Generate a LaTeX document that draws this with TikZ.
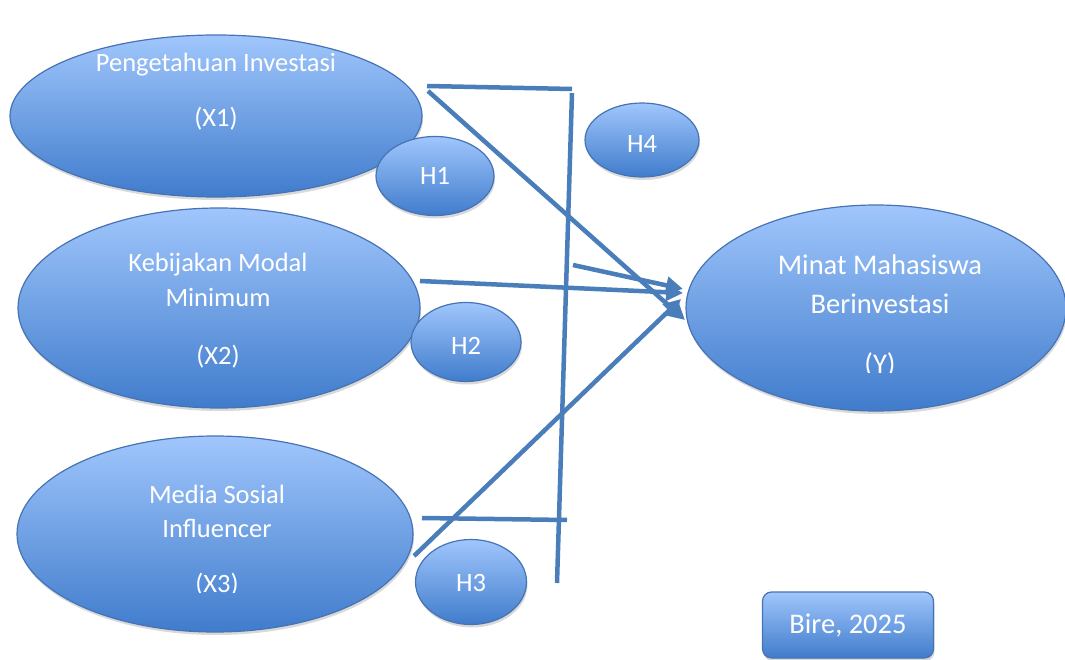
\documentclass[tikz,border=0pt]{standalone}
\usepackage{fontspec}
\setmainfont{Carlito}
\usetikzlibrary{arrows.meta,shapes.geometric,shadows}
\definecolor{linec}{RGB}{74,126,187}
\definecolor{edgec}{RGB}{70,115,180}
\definecolor{topc}{RGB}{160,198,252}
\definecolor{botc}{RGB}{64,124,204}
\tikzset{
  bub/.style={ellipse, draw=edgec, line width=1.2pt, top color=topc, bottom color=botc,
    inner sep=0pt, drop shadow={shadow xshift=1pt, shadow yshift=-3pt, opacity=0.25, fill=black!60}},
  boxy/.style={rectangle, rounded corners=9pt, draw=edgec, line width=1.2pt, top color=topc, bottom color=botc,
    inner sep=0pt, drop shadow={shadow xshift=1pt, shadow yshift=-3pt, opacity=0.25, fill=black!60}},
  txt/.style={text=white, anchor=base, inner sep=0pt, font=\fontsize{26.5}{30}\selectfont},
  bigtxt/.style={text=white, anchor=base, inner sep=0pt, font=\fontsize{28.5}{32}\selectfont},
  ln/.style={draw=linec, line width=4.5pt},
  arr/.style={ln, -{Triangle[length=17pt,width=17pt]}}
}
\begin{document}
\begin{tikzpicture}[x=1pt,y=-1pt]
\useasboundingbox (0,0) rectangle (1065,660);
\clip (0,0) rectangle (1065,660);
% main ellipses
\node[bub, minimum width=412pt, minimum height=162pt] (X1) at (216,116) {};
\node[bub, minimum width=402pt, minimum height=200pt] (X2) at (219,308) {};
\node[bub, minimum width=396pt, minimum height=196pt] (X3) at (215,534) {};
\node[bub, minimum width=380pt, minimum height=206pt] (Y) at (876,308) {};
% hypothesis ellipses
\node[bub, minimum width=118pt, minimum height=79pt] (H1) at (435,176) {};
\node[bub, minimum width=110pt, minimum height=79pt] (H2) at (466,342) {};
\node[bub, minimum width=111pt, minimum height=85pt] (H3) at (471,582) {};
\node[bub, minimum width=114pt, minimum height=74pt] (H4) at (642,140) {};
\node[boxy, minimum width=171pt, minimum height=66pt] (B) at (848,625) {};
% texts
\node[txt] (t1a) at (216,72) {Pengetahuan Investasi};
\node[txt] (t1b) at (216,127) {(X1)};
\node[txt] (t2a) at (218,272) {Kebijakan Modal};
\node[txt] (t2b) at (218,306) {Minimum};
\node[txt] (t2c) at (218,364) {(X2)};
\node[txt] (t3a) at (217,503) {Media Sosial};
\node[txt] (t3b) at (217,537) {Influencer};
\begin{scope}
  \clip (100,560) rectangle (330,592);
  \node[txt] (t3c) at (217,592) {(X3)};
\end{scope}
\node[bigtxt] (tya) at (880,275) {Minat Mahasiswa};
\node[bigtxt] (tyb) at (880,313) {Berinvestasi};
\begin{scope}
  \clip (800,340) rectangle (960,372);
  \node[bigtxt] (tyc) at (880,373) {(Y)};
\end{scope}
\node[txt] (th1) at (435,185) {H1};
\node[txt] (th2) at (466,354) {H2};
\node[txt] (th3) at (471,591) {H3};
\node[txt] (th4) at (642,153) {H4};
\node[bigtxt] (tb) at (848,633) {Bire, 2025};
% connector end points
\coordinate (s1) at (428,91);
\coordinate (e1) at (685,320);
\coordinate (s2) at (420,281);
\coordinate (e2) at (683,293);
\coordinate (s3) at (414,556);
\coordinate (e3) at (681,299);
\coordinate (s4) at (573,265);
\coordinate (e4) at (683,289);
\coordinate (ta) at (427,86);
\coordinate (tb1) at (572,89);
\coordinate (va) at (572,93);
\coordinate (vb) at (557,583);
\coordinate (ba) at (422,518);
\coordinate (bb) at (567,520);
% bracket lines
\draw[ln] (ta) -- (tb1);
\draw[ln] (va) -- (vb);
\draw[ln] (ba) -- (bb);
% arrows
\draw[arr] (s2) -- (e2);
\draw[arr] (s4) -- (e4);
\draw[arr] (s1) -- (e1);
\draw[arr] (s3) -- (e3);
\end{tikzpicture}
\end{document}
